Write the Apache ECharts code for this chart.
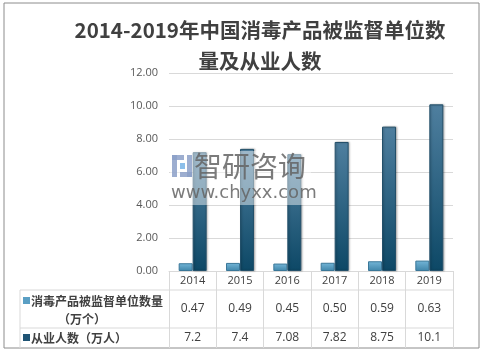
<!DOCTYPE html>
<html>
<head>
<meta charset="utf-8">
<script src="https://cdn.jsdelivr.net/npm/echarts@6/dist/echarts.min.js"></script>
<style>
  html, body { margin: 0; padding: 0; background: #fff; }
  #main { width: 483px; height: 353px; }
</style>
</head>
<body>
<div id="main"></div>
<script>
const years = ["2014", "2015", "2016", "2017", "2018", "2019"];
const units = [0.47, 0.49, 0.45, 0.50, 0.59, 0.63];   // 万个
const workers = [7.2, 7.4, 7.08, 7.82, 8.75, 10.1];   // 万人
const unitsText = ["0.47", "0.49", "0.45", "0.50", "0.59", "0.63"];
const workersText = ["7.2", "7.4", "7.08", "7.82", "8.75", "10.1"];
const yTicks = { min: 0, max: 12, interval: 2 };

const font = '"Noto Sans CJK SC", "Noto Sans", sans-serif';
const numFont = '"Open Sans", "Noto Sans", sans-serif';
const gridL = 169, gridR = 453, gridT = 73, gridB = 271;
const rowY = [271, 290, 328, 348];
const tableL = 20;
const lineColor = "#d9d9d9";

let myChart = echarts.init(document.getElementById("main"));

function vgrad(top, bottom) {
  return new echarts.graphic.LinearGradient(0, 0, 0, 1, [
    { offset: 0, color: top },
    { offset: 1, color: bottom }
  ]);
}

const wmBlue = "rgba(140,160,200,0.85)";
const wmText = "rgba(100,100,100,0.85)";
const wm = { zlevel: 5, z: 100, silent: true };

let option = {
  animation: false,
  title: {
    text: "2014-2019年中国消毒产品被监督单位数\n量及从业人数",
    left: 255,
    top: 10,
    textAlign: "center",
    textStyle: {
      fontFamily: font,
      fontSize: 20.5,
      fontWeight: "bold",
      color: "#404040",
      lineHeight: 31
    }
  },
  grid: { left: gridL, right: 483 - gridR, top: gridT, bottom: 353 - gridB },
  xAxis: {
    type: "category",
    data: years,
    axisLine: { lineStyle: { color: lineColor } },
    axisTick: { show: true, length: rowY[3] - rowY[0], lineStyle: { color: lineColor } },
    axisLabel: {
      margin: 0,
      interval: 0,
      verticalAlign: "top",
      fontFamily: numFont,
      formatter: function (v, i) {
        return "{y|" + v + "}\n{a|" + unitsText[i] + "}\n{b|" + workersText[i] + "}";
      },
      rich: {
        y: { fontFamily: numFont, fontSize: 11, color: "#404040", lineHeight: rowY[1] - rowY[0], height: rowY[1] - rowY[0] },
        a: { fontFamily: numFont, fontSize: 12, color: "#404040", lineHeight: rowY[2] - rowY[1], height: rowY[2] - rowY[1] },
        b: { fontFamily: numFont, fontSize: 12, color: "#404040", lineHeight: rowY[3] - rowY[2], height: rowY[3] - rowY[2] }
      }
    }
  },
  yAxis: {
    type: "value",
    min: yTicks.min,
    max: yTicks.max,
    interval: yTicks.interval,
    axisLine: { show: false },
    axisTick: { show: false },
    splitLine: { lineStyle: { color: lineColor } },
    axisLabel: {
      margin: 11,
      fontFamily: numFont,
      fontSize: 11,
      color: "#595959",
      formatter: function (v) { return v.toFixed(2); }
    }
  },
  series: [
    {
      name: "消毒产品被监督单位数量（万个）",
      type: "bar",
      data: units,
      barWidth: 14,
      barGap: "0%",
      itemStyle: {
        color: vgrad("#74b6d8", "#3f85a9"),
        borderColor: "#3a7798",
        borderWidth: 1
      }
    },
    {
      name: "从业人数（万人）",
      type: "bar",
      data: workers,
      barWidth: 14,
      itemStyle: {
        color: vgrad("#4f7f9f", "#0d4866"),
        borderColor: "#23506a",
        borderWidth: 1,
        shadowColor: "rgba(0,0,0,0.25)",
        shadowBlur: 2,
        shadowOffsetX: 1
      }
    }
  ],
  graphic: [
    // outer frame
    { type: "rect", shape: { x: 4, y: 3, width: 475, height: 345 }, style: { fill: "none", stroke: "#8c8c8c", lineWidth: 1 }, silent: true },
    // table lines
    { type: "line", shape: { x1: tableL, y1: rowY[1], x2: gridR, y2: rowY[1] }, style: { stroke: lineColor, lineWidth: 1 } },
    { type: "line", shape: { x1: tableL, y1: rowY[2], x2: gridR, y2: rowY[2] }, style: { stroke: lineColor, lineWidth: 1 } },
    { type: "line", shape: { x1: tableL, y1: rowY[1], x2: tableL, y2: rowY[3] }, style: { stroke: lineColor, lineWidth: 1 } },
    // legend cells
    { type: "rect", shape: { x: 23, y: 297, width: 7, height: 7 }, style: { fill: "#5a9fc4" } },
    { type: "text", x: 31, y: 301, style: { text: "消毒产品被监督单位数量", font: "bold 12px " + font, fill: "#404040", verticalAlign: "middle" } },
    { type: "text", x: 82, y: 319, style: { text: "（万个）", font: "bold 12px " + font, fill: "#404040", align: "center", verticalAlign: "middle" } },
    { type: "rect", shape: { x: 23, y: 334, width: 7, height: 7 }, style: { fill: "#1f5474" } },
    { type: "text", x: 31, y: 338, style: { text: "从业人数（万人）", font: "bold 12px " + font, fill: "#404040", verticalAlign: "middle" } },
    // watermark
    Object.assign({ type: "rect", shape: { x: 170, y: 151, width: 141, height: 54 }, style: { fill: "rgba(255,255,255,0.45)" } }, wm),
    Object.assign({ type: "rect", shape: { x: 172, y: 155, width: 12, height: 5 }, style: { fill: wmBlue } }, wm),
    Object.assign({ type: "rect", shape: { x: 172, y: 155, width: 5, height: 22 }, style: { fill: wmBlue } }, wm),
    Object.assign({ type: "rect", shape: { x: 180, y: 163, width: 5, height: 6 }, style: { fill: "rgba(120,180,230,0.85)" } }, wm),
    Object.assign({ type: "rect", shape: { x: 187, y: 155, width: 5, height: 22 }, style: { fill: wmBlue } }, wm),
    Object.assign({ type: "rect", shape: { x: 180, y: 172, width: 12, height: 5 }, style: { fill: wmBlue } }, wm),
    Object.assign({ type: "text", x: 194, y: 166, style: { text: "智研咨询", font: "28px " + font, fill: wmText, verticalAlign: "middle" } }, wm),
    Object.assign({ type: "text", x: 171, y: 193, style: { text: "www.chyxx.com", font: "18px 'DejaVu Sans', sans-serif", fill: wmText, verticalAlign: "middle" } }, wm)
  ]
};

myChart.setOption(option);
</script>
</body>
</html>
